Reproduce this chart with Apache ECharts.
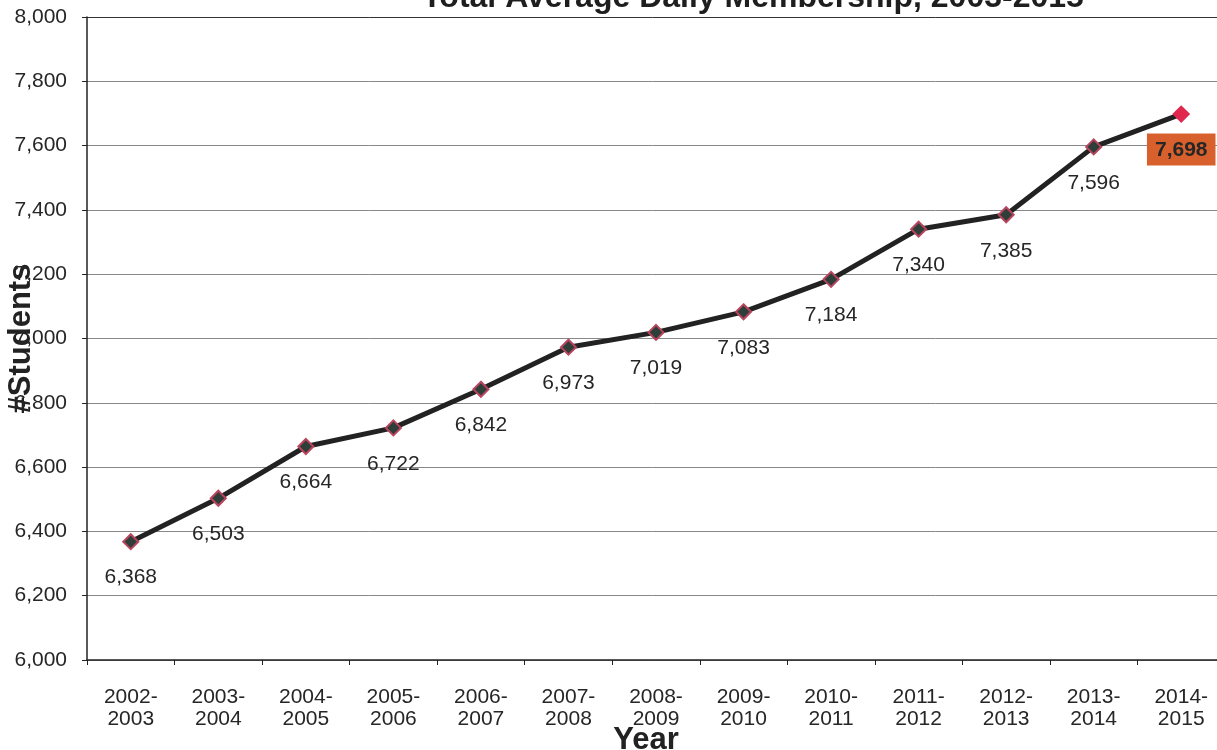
<!DOCTYPE html>
<html>
<head>
<meta charset="utf-8">
<script src="https://cdn.jsdelivr.net/npm/echarts@6/dist/echarts.min.js"></script>
<style>
  html, body { margin: 0; padding: 0; background: #ffffff; }
  #chart { width: 1217px; height: 750px; }
</style>
</head>
<body>
<div id="chart"></div>
<script>
// school years on the x axis
const years = [
    '2002-\n2003', '2003-\n2004', '2004-\n2005', '2005-\n2006', '2006-\n2007',
    '2007-\n2008', '2008-\n2009', '2009-\n2010', '2010-\n2011', '2011-\n2012',
    '2012-\n2013', '2013-\n2014', '2014-\n2015'
];
// total average daily membership
const students = [6368, 6503, 6664, 6722, 6842, 6973, 7019, 7083, 7184, 7340, 7385, 7596, 7698];

const font = 'Arial, "Liberation Sans", sans-serif';
const fmt = (v) => v.toLocaleString('en-US');

const chart = echarts.init(document.getElementById('chart'));

const lastIdx = students.length - 1;
const seriesData = students.map((v, i) => {
    if (i !== lastIdx) return v;
    // latest year is highlighted
    return {
        value: v,
        itemStyle: { color: '#e0284e', borderColor: '#e0284e' },
        label: {
            backgroundColor: '#d8602c',
            color: '#262626',
            fontWeight: 'bold',
            fontSize: 21,
            padding: [6, 8, 5, 8],
            distance: 11
        }
    };
});

const option = {
    backgroundColor: '#ffffff',
    animation: false,
    title: {
        text: 'Total Average Daily Membership, 2003-2015',
        left: 748,
        top: -23,
        textAlign: 'center',
        textStyle: { fontFamily: font, fontSize: 32, fontWeight: 'bold', color: '#1e1e1e' }
    },
    grid: { left: 87, right: -8, top: 17, bottom: 90, containLabel: false, outerBoundsMode: 'none' },
    xAxis: {
        type: 'category',
        data: years,
        boundaryGap: true,
        name: 'Year',
        nameLocation: 'middle',
        nameGap: 65,
        nameMoveOverlap: false,
        nameTextStyle: {
            fontFamily: font, fontSize: 31, fontWeight: 'bold', color: '#222',
            padding: [0, 20, 0, 0]
        },
        axisLine: { lineStyle: { color: '#222', width: 1.5 } },
        axisTick: { show: true, length: 5, lineStyle: { color: '#222' } },
        axisLabel: { fontFamily: font, fontSize: 21, color: '#262626', margin: 26, lineHeight: 22, interval: 0 },
        splitLine: { show: false }
    },
    yAxis: {
        type: 'value',
        min: 6000,
        max: 8000,
        interval: 200,
        name: '#Students',
        nameLocation: 'middle',
        nameRotate: 90,
        nameGap: 50,
        nameMoveOverlap: false,
        nameTextStyle: { fontFamily: font, fontSize: 31, fontWeight: 'bold', color: '#222' },
        axisLine: { show: true, lineStyle: { color: '#222', width: 1.5 } },
        axisTick: { show: true, length: 5, lineStyle: { color: '#222' } },
        axisLabel: { fontFamily: font, fontSize: 21, color: '#262626', margin: 20, formatter: fmt },
        splitLine: {
            lineStyle: {
                color: ['#888', '#888', '#888', '#888', '#888', '#888', '#888', '#888', '#888', '#888', '#333'],
                width: 1
            }
        }
    },
    series: [{
        type: 'line',
        data: seriesData,
        symbol: 'diamond',
        symbolSize: 15,
        lineStyle: { color: '#222', width: 5 },
        itemStyle: { color: '#2f3e38', borderColor: '#b8445e', borderWidth: 2 },
        label: {
            show: true,
            position: 'bottom',
            distance: 17,
            fontFamily: font,
            fontSize: 21,
            color: '#262626',
            formatter: (p) => fmt(p.value)
        },
        z: 3
    }]
};

chart.setOption(option);
</script>
</body>
</html>
